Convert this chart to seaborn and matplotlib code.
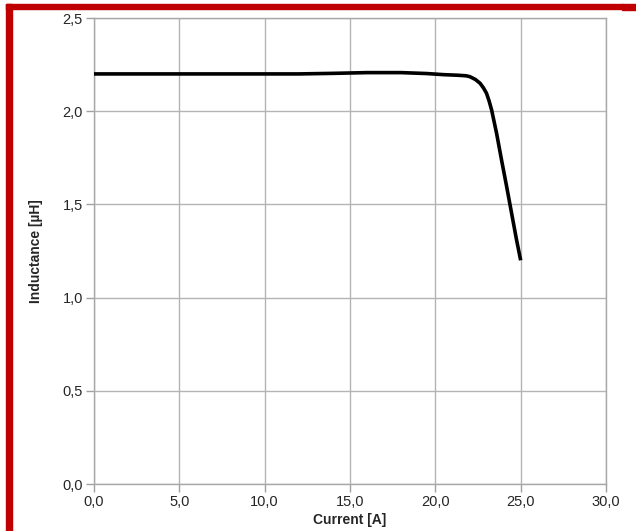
import numpy as np
import pandas as pd
import matplotlib
matplotlib.use("Agg")
import matplotlib.pyplot as plt
import seaborn as sns
from matplotlib.patches import Rectangle

## inductance vs current
current = [0.0, 5.0, 10.0, 12.0, 14.0, 16.0, 18.0, 19.5, 20.5, 21.3, 21.8, 22.03, 22.35,
           22.62, 22.82, 23.0, 23.15, 23.3, 23.59, 23.88, 24.18, 24.47, 24.76, 25.0]
inductance = [2.20, 2.20, 2.20, 2.20, 2.203, 2.207, 2.207, 2.202, 2.196, 2.193, 2.19, 2.185, 2.17,
              2.15, 2.125, 2.096, 2.055, 2.006, 1.881, 1.738, 1.595, 1.452, 1.309, 1.20]

xticks = [0, 5, 10, 15, 20, 25, 30]
yticks = [0.0, 0.5, 1.0, 1.5, 2.0, 2.5]

df = pd.DataFrame({"Current [A]": current, "Inductance [µH]": inductance})

sns.set_theme(style="white")
plt.rcParams["font.family"] = ["Liberation Sans", "DejaVu Sans"]

fig = plt.figure(figsize=(6.36, 5.31), dpi=100)
ax = fig.add_axes([94 / 636, 47 / 531, 512 / 636, 466 / 531])

sns.lineplot(data=df, x="Current [A]", y="Inductance [µH]", ax=ax,
             color="black", linewidth=2.6, zorder=3)
ax.lines[0].set_solid_joinstyle("round")
ax.lines[0].set_solid_capstyle("butt")

ax.set_xlim(0, 30)
ax.set_ylim(0, 2.5)
ax.set_xticks(xticks)
ax.set_yticks(yticks)
ax.set_xticklabels([f"{v:.1f}".replace(".", ",") for v in xticks], fontsize=10.5)
ax.set_yticklabels([f"{v:.1f}".replace(".", ",") for v in yticks], fontsize=10.5)
ax.grid(True, color="#b4b4b4", linewidth=1.0)
ax.tick_params(axis="both", direction="out", length=6, width=1.0, color="#a0a0a0",
               pad=2, bottom=True, left=True)
for s in ax.spines.values():
    s.set_color("#a8a8a8")
    s.set_linewidth(1.0)

ax.set_xlabel("Current [A]", fontsize=10, fontweight="bold", labelpad=3)
ax.set_ylabel("Inductance [µH]", fontsize=10, fontweight="bold", labelpad=14)

## red frame at top and left edge of the picture
fig.patches.append(Rectangle((6 / 636, 0), 6 / 636, 1 - 4 / 531, transform=fig.transFigure,
                             color="#c00000", zorder=0))
fig.patches.append(Rectangle((6 / 636, 1 - 9 / 531), 617 / 636, 5 / 531, transform=fig.transFigure,
                             color="#c00000", zorder=0))
fig.patches.append(Rectangle((622 / 636, 1 - 10 / 531), 14 / 636, 6 / 531, transform=fig.transFigure,
                             color="#c00000", zorder=0))

fig.savefig("out.png", dpi=100)
